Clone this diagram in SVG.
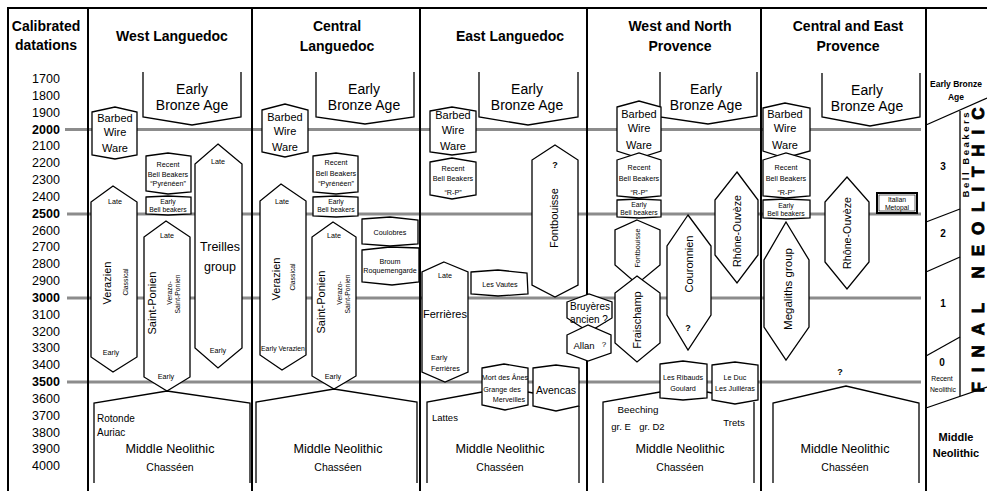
<svg xmlns="http://www.w3.org/2000/svg" width="987" height="491" viewBox="0 0 987 491">
<style>
text{font-family:"Liberation Sans",Arial,sans-serif;text-anchor:middle;dominant-baseline:central;fill:#000}
.h{font-weight:bold;font-size:14px}
.yr{font-size:12.5px}
.b{font-weight:bold}
.eba{font-size:14px}
.bw{font-size:11px}
.s7{font-size:7.2px}
.s6{font-size:6.8px}
.mn{font-size:12.6px}
.ch{font-size:10.5px}
.m11{font-size:11px}
.l{text-anchor:start}
.div{stroke:#000;stroke-width:2;fill:none}
.grid{stroke:#8c8c8c;stroke-width:3}
.sh{fill:#fff;stroke:#000;stroke-width:1.3}
.op{fill:none;stroke:#000;stroke-width:1.3}
</style>
<rect width="987" height="491" fill="#fff"/>
<g id="grid">
<line class="grid" x1="65" y1="129.5" x2="921" y2="129.5"/>
<line class="grid" x1="67" y1="214" x2="921" y2="214"/>
<line class="grid" x1="67" y1="298" x2="921" y2="298"/>
<line class="grid" x1="67" y1="382" x2="921" y2="382"/>
</g>
<g id="frame">
<line class="div" x1="7" y1="8" x2="987" y2="8"/>
<line class="div" x1="8" y1="8" x2="8" y2="491"/>
<line class="div" x1="88" y1="8" x2="88" y2="491"/>
<line class="div" x1="252" y1="8" x2="252" y2="491"/>
<line class="div" x1="420" y1="8" x2="420" y2="491"/>
<line class="div" x1="587" y1="8" x2="587" y2="491"/>
<line class="div" x1="761" y1="8" x2="761" y2="491"/>
<line class="div" x1="926" y1="8" x2="926" y2="491"/>
</g>
<g id="headers">
<text class="h" x="46" y="26">Calibrated</text>
<text class="h" x="46" y="45">datations</text>
<text class="h" x="172" y="36">West Languedoc</text>
<text class="h" x="337" y="26">Central</text>
<text class="h" x="337" y="46">Languedoc</text>
<text class="h" x="510" y="36">East Languedoc</text>
<text class="h" x="680" y="26">West and North</text>
<text class="h" x="680" y="46">Provence</text>
<text class="h" x="848" y="26">Central and East</text>
<text class="h" x="848" y="46">Provence</text>
</g>
<g id="years">
<text class="yr" x="46" y="79">1700</text>
<text class="yr" x="46" y="95.8">1800</text>
<text class="yr" x="46" y="112.7">1900</text>
<text class="yr b" x="46" y="129.5">2000</text>
<text class="yr" x="46" y="146.3">2100</text>
<text class="yr" x="46" y="163.2">2200</text>
<text class="yr" x="46" y="180">2300</text>
<text class="yr" x="46" y="196.8">2400</text>
<text class="yr b" x="46" y="213.7">2500</text>
<text class="yr" x="46" y="230.5">2600</text>
<text class="yr" x="46" y="247.3">2700</text>
<text class="yr" x="46" y="264.2">2800</text>
<text class="yr" x="46" y="281">2900</text>
<text class="yr b" x="46" y="297.8">3000</text>
<text class="yr" x="46" y="314.7">3100</text>
<text class="yr" x="46" y="331.5">3200</text>
<text class="yr" x="46" y="348.3">3300</text>
<text class="yr" x="46" y="365.2">3400</text>
<text class="yr b" x="46" y="382">3500</text>
<text class="yr" x="46" y="398.8">3600</text>
<text class="yr" x="46" y="415.7">3700</text>
<text class="yr" x="46" y="432.5">3800</text>
<text class="yr" x="46" y="449.3">3900</text>
<text class="yr" x="46" y="466.2">4000</text>
</g>

<!-- West Languedoc -->
<g id="eba-wl"><polyline class="op" points="143,72 143,117 192,125 241,117 241,72"/>
<text class="eba" x="192" y="89">Early</text><text class="eba" x="192" y="105">Bronze Age</text></g>
<g id="bww-wl"><polygon class="sh" points="92,112 115,107 137,112 137,155 115,159 92,155"/>
<text class="bw" x="115" y="118">Barbed</text><text class="bw" x="115" y="132">Wire</text><text class="bw" x="115" y="148">Ware</text></g>
<g id="rbb-wl"><polygon class="sh" points="146,156 168,153 191,156 191,192 168,194 146,191"/>
<text class="s7" x="168" y="164">Recent</text><text class="s7" x="168" y="174">Bell Beakers</text><text class="s7" x="168" y="183">“Pyrénéen”</text></g>
<g id="ebb-wl"><polygon class="sh" points="146,197 168,196 191,197 191,214 168,215 146,214"/>
<text class="s6" x="168" y="201.5">Early</text><text class="s6" x="168" y="209.5">Bell beakers</text></g>
<g id="ver-wl"><polygon class="sh" points="113,186 137,202 137,357 113,372 91,357 91,202"/>
<text class="s7" x="115" y="201">Late</text>
<text class="m11" transform="translate(107,283) rotate(-90)">Verazien</text>
<text class="s6" transform="translate(125,282) rotate(-90)">Classical</text>
<text class="s7" x="111" y="352">Early</text></g>
<g id="sp-wl"><polygon class="sh" points="166,221 190,237 190,377 167,391 144,377 144,237"/>
<text class="s7" x="167" y="235">Late</text>
<text class="m11" transform="translate(152,303) rotate(-90)">Saint-Ponien</text>
<text class="s6" transform="translate(169,293) rotate(-90)">Verazo-</text>
<text class="s6" transform="translate(177,294) rotate(-90)">Saint-Ponien</text>
<text class="s7" x="166" y="376">Early</text></g>
<g id="tre-wl"><polygon class="sh" points="218,144 242,164 242,348 218,368 195,348 195,164"/>
<text class="s7" x="218" y="161">Late</text>
<text style="font-size:12.5px" x="220" y="247">Treilles</text><text style="font-size:12.5px" x="220" y="267">group</text>
<text class="s7" x="218" y="350">Early</text></g>
<g id="mn-wl"><polyline class="op" points="94,483 94,403 167,391 250,403 250,483"/>
<text style="font-size:10px" class="l" x="97" y="418">Rotonde</text><text style="font-size:10px" class="l" x="97" y="432">Auriac</text>
<text class="mn" x="170" y="449">Middle Neolithic</text><text class="ch" x="170" y="467">Chasséen</text></g>

<!-- Central Languedoc -->
<g id="eba-cl"><polyline class="op" points="316,72 316,117 365,124 414,117 414,72"/>
<text class="eba" x="364" y="89">Early</text><text class="eba" x="364" y="105">Bronze Age</text></g>
<g id="bww-cl"><polygon class="sh" points="262,110 285,104 308,110 308,152 285,157 262,152"/>
<text class="bw" x="285" y="117">Barbed</text><text class="bw" x="285" y="131">Wire</text><text class="bw" x="285" y="147">Ware</text></g>
<g id="rbb-cl"><polygon class="sh" points="313,156 336,153 358,156 358,192 336,194 313,192"/>
<text class="s7" x="336" y="162">Recent</text><text class="s7" x="336" y="173">Bell Beakers</text><text class="s7" x="336" y="183">“Pyrénéen”</text></g>
<g id="ebb-cl"><polygon class="sh" points="313,197 336,196 358,197 358,216 336,217 313,216"/>
<text class="s6" x="336" y="201.5">Early</text><text class="s6" x="336" y="209.5">Bell beakers</text></g>
<g id="ver-cl"><polygon class="sh" points="281,184 306,201 306,355 282,370 260,355 260,201"/>
<text class="s7" x="282" y="201">Late</text>
<text class="m11" transform="translate(276,279) rotate(-90)">Verazien</text>
<text class="s6" transform="translate(292,277) rotate(-90)">Classical</text>
<text class="s6" x="283" y="348">Early Verazien</text></g>
<g id="sp-cl"><polygon class="sh" points="333,222 356,237 356,376 334,389 312,376 312,237"/>
<text class="s7" x="334" y="235">Late</text>
<text class="m11" transform="translate(321,302) rotate(-90)">Saint-Ponien</text>
<text class="s6" transform="translate(339,293) rotate(-90)">Verazo-</text>
<text class="s6" transform="translate(347,294) rotate(-90)">Saint-Ponien</text>
<text class="s7" x="333" y="376">Early</text></g>
<g id="cou-cl"><polygon class="sh" points="362,219 390,217 418,220 418,244 390,246 362,244"/>
<text class="s7" x="390" y="232">Coulobres</text></g>
<g id="brq-cl"><polygon class="sh" points="362,250 390,247 419,248 419,282 392,285 362,282"/>
<text class="s7" x="390" y="261">Broum</text><text class="s7" x="390" y="270">Roquemengarde</text></g>
<g id="mn-cl"><polyline class="op" points="256,483 256,402 334,389 417,402 417,483"/>
<text class="mn" x="338" y="449">Middle Neolithic</text><text class="ch" x="338" y="467">Chasséen</text></g>

<!-- East Languedoc -->
<g id="eba-el"><polyline class="op" points="479,72 479,117 528,125 578,117 578,72"/>
<text class="eba" x="527" y="89">Early</text><text class="eba" x="527" y="105">Bronze Age</text></g>
<g id="bww-el"><polygon class="sh" points="430,111 452,107 476,111 476,152 452,155 430,152"/>
<text class="bw" x="453" y="115">Barbed</text><text class="bw" x="453" y="130">Wire</text><text class="bw" x="453" y="146">Ware</text></g>
<g id="rbb-el"><polygon class="sh" points="430,162 452,158 476,162 476,195 452,199 430,195"/>
<text class="s7" x="453" y="168">Recent</text><text class="s7" x="453" y="178">Bell Beakers</text><text class="s7" x="453" y="192">“R-P”</text></g>
<g id="fon-el"><polygon class="sh" points="555,145 578,160 578,285 555,297 532,285 532,160"/>
<text class="b" style="font-size:9px" x="555" y="165">?</text>
<text class="m11" transform="translate(554,218) rotate(-90)">Fontbouisse</text></g>
<g id="fer-el"><polygon class="sh" points="444,262 468,272 468,372 445,382 422,372 422,272"/>
<text class="s7" x="445" y="275">Late</text>
<text class="m11" x="445" y="314">Ferrières</text>
<text class="s7 l" x="431" y="357">Early</text><text class="s7 l" x="431" y="368">Ferrières</text></g>
<g id="vau-el"><polygon class="sh" points="471,272 498,270 527,273 528,294 498,296 471,294"/>
<text class="s7" x="500" y="284">Les Vautes</text></g>
<g id="mda-el"><polygon class="sh" points="482,368 504,364 528,368 528,405 505,410 482,405"/>
<text class="s7" x="505" y="377">Mort des Ânes</text><text class="s7" x="502" y="389">Grange des</text><text class="s7" x="509" y="399">Merveilles</text></g>
<g id="ave-el"><polygon class="sh" points="533,368 556,365 579,368 579,406 556,411 533,406"/>
<text class="ch" x="556" y="390">Avencas</text></g>
<g id="mn-el"><polyline class="op" points="427,483 427,402 482,392"/><polyline class="op" points="528,392 533,393"/><polyline class="op" points="579,406 579,483"/>
<text style="font-size:9.5px" class="l" x="432" y="417">Lattes</text>
<text class="mn" x="500" y="449">Middle Neolithic</text><text class="ch" x="500" y="467">Chasséen</text></g>
<g id="bru-el"><polygon class="sh" points="567,302 589,294 612,302 612,318 589,332 567,318"/>
<text style="font-size:10px" x="590" y="306">Bruyères</text><text style="font-size:10px" x="589" y="319">ancien ?</text></g>
<g id="all-el"><polygon class="sh" points="567,335 588,325 611,335 611,353 588,361 567,353"/>
<text style="font-size:9.5px" x="584" y="345">Allan</text><text style="font-size:8px" x="604" y="344">?</text></g>

<!-- West and North Provence -->
<g id="eba-wn"><polyline class="op" points="660,72 660,117 708,124 757,116 757,72"/>
<text class="eba" x="706" y="89">Early</text><text class="eba" x="706" y="105">Bronze Age</text></g>
<g id="bww-wn"><polygon class="sh" points="617,107 639,101 661,107 661,151 639,158 617,151"/>
<text class="bw" x="639" y="114">Barbed</text><text class="bw" x="639" y="128">Wire</text><text class="bw" x="639" y="145">Ware</text></g>
<g id="rbb-wn"><polygon class="sh" points="617,160 639,153 661,160 661,196 639,198 617,196"/>
<text class="s7" x="639" y="167">Recent</text><text class="s7" x="639" y="178">Bell Beakers</text><text class="s7" x="639" y="192">“R-P”</text></g>
<g id="ebb-wn"><polygon class="sh" points="617,200 639,199 661,200 661,217 639,218 617,217"/>
<text class="s6" x="639" y="204.5">Early</text><text class="s6" x="639" y="212.5">Bell beakers</text></g>
<g id="fon-wn"><polygon class="sh" points="637,220 660,230 660,265 637,284 615,265 615,230"/>
<text class="s7" transform="translate(637,248) rotate(-90)">Fontbouisse</text></g>
<g id="fra-wn"><polygon class="sh" points="637,276 660,293 660,343 637,362 615,343 615,293"/>
<text class="m11" transform="translate(637,320) rotate(-90)">Fraischamp</text></g>
<g id="cou-wn"><polygon class="sh" points="688,215 711,246 711,315 688,350 667,315 667,246"/>
<text class="m11" transform="translate(689,264) rotate(-90)">Couronnien</text>
<text class="b" style="font-size:9px" x="688" y="328">?</text></g>
<g id="rho-wn"><polygon class="sh" points="737,172 758,200 758,255 737,283 715,255 715,200"/>
<text style="font-size:10.7px" transform="translate(737,231) rotate(-90)">Rhône-Ouvèze</text></g>
<g id="rib-wn"><polygon class="sh" points="660,364 683,361 707,364 707,398 683,400 660,398"/>
<text class="s7" x="683" y="377">Les Ribauds</text><text class="s7" x="683" y="388">Goulard</text></g>
<g id="duc-wn"><polygon class="sh" points="712,365 735,362 758,365 758,400 735,404 712,400"/>
<text class="s7" x="735" y="377">Le Duc</text><text class="s7" x="735" y="388">Les Juilléras</text></g>
<g id="mn-wn"><polyline class="op" points="603,483 603,402 660,392"/><polyline class="op" points="707,392 712,393"/><polyline class="op" points="754,402 754,483"/>
<text style="font-size:9.8px" x="638" y="409">Beeching</text>
<text style="font-size:9.5px" x="621" y="426">gr. E</text><text style="font-size:9.5px" x="652" y="426">gr. D2</text>
<text style="font-size:9.5px" x="734" y="422">Trets</text>
<text class="mn" x="680" y="449">Middle Neolithic</text><text class="ch" x="680" y="467">Chasséen</text></g>

<!-- Central and East Provence -->
<g id="eba-ce"><polyline class="op" points="822,73 822,117 870,126 920,117 920,73"/>
<text class="eba" x="867" y="90">Early</text><text class="eba" x="867" y="106">Bronze Age</text></g>
<g id="bww-ce"><polygon class="sh" points="763,108 785,103 810,108 810,151 785,158 763,151"/>
<text class="bw" x="785" y="114">Barbed</text><text class="bw" x="785" y="128">Wire</text><text class="bw" x="785" y="145">Ware</text></g>
<g id="rbb-ce"><polygon class="sh" points="763,160 786,153 810,160 810,196 786,198 763,196"/>
<text class="s7" x="786" y="167">Recent</text><text class="s7" x="786" y="178">Bell Beakers</text><text class="s7" x="786" y="192">“R-P”</text></g>
<g id="ebb-ce"><polygon class="sh" points="763,200 786,199 810,200 810,218 786,219 763,218"/>
<text class="s6" x="786" y="205">Early</text><text class="s6" x="786" y="213">Bell beakers</text></g>
<g id="meg-ce"><polygon class="sh" points="786,222 809,260 809,327 786,360 764,327 764,260"/>
<text style="font-size:11.5px" transform="translate(788,289) rotate(-90)">Megaliths group</text></g>
<g id="rho-ce"><polygon class="sh" points="847,177 869,202 869,262 847,289 825,262 825,202"/>
<text style="font-size:10.7px" transform="translate(847,233) rotate(-90)">Rhône-Ouvèze</text></g>
<g id="ita-ce"><rect class="sh" x="877" y="193" width="40" height="20" style="stroke-width:2"/>
<rect x="879" y="195" width="36" height="16" fill="none" stroke="#000" stroke-width="0.6"/>
<text class="s6" x="897" y="199">Italian</text><text class="s6" x="897" y="207">Metopal</text></g>
<g id="q-ce"><text class="b" style="font-size:9px" x="840" y="372">?</text></g>
<g id="mn-ce"><polyline class="op" points="773,483 773,403 846,386 919,403 919,483"/>
<text class="mn" x="845" y="449">Middle Neolithic</text><text class="ch" x="845" y="467">Chasséen</text></g>

<!-- Right periodisation column -->
<g id="period">
<line class="op" x1="926" y1="125" x2="987" y2="98"/>
<line class="op" x1="926" y1="222" x2="960" y2="209"/>
<line class="op" x1="926" y1="272" x2="960" y2="257"/>
<line class="op" x1="926" y1="356" x2="960" y2="337"/>
<line class="op" x1="926" y1="408" x2="987" y2="387"/>
<line class="op" x1="960" y1="111" x2="960" y2="396"/>
<text class="b" style="font-size:8.5px" x="956" y="84">Early Bronze</text>
<text class="b" style="font-size:8.5px" x="956" y="97">Age</text>
<text class="b" style="font-size:10px" x="943" y="166">3</text>
<text class="b" style="font-size:10px" x="943" y="233">2</text>
<text class="b" style="font-size:10px" x="943" y="303">1</text>
<text class="b" style="font-size:10px" x="942" y="362">0</text>
<text class="s6" x="942" y="378">Recent</text>
<text class="s6" x="943" y="389">Neolithic</text>
<text class="b" style="font-size:11px" x="956" y="437">Middle</text>
<text class="b" style="font-size:11px" x="956" y="453">Neolithic</text>
<text class="b" style="font-size:9.5px" transform="translate(965.5,155) rotate(-90)" textLength="85" lengthAdjust="spacing">Bell Beakers</text>
<text style="font-size:17px;font-weight:900;stroke:#000;stroke-width:0.9" transform="translate(978.5,250) rotate(-90)" textLength="285" lengthAdjust="spacing">FINAL NEOLITHIC</text>
</g>
</svg>
